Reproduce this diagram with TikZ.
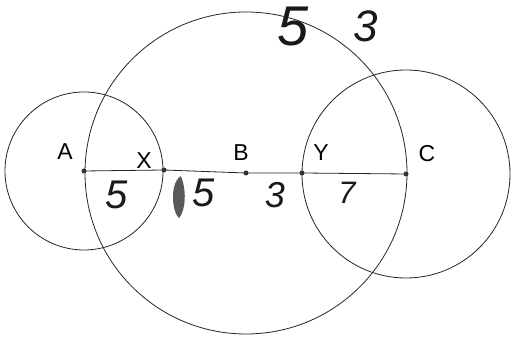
\documentclass[tikz,border=0pt]{standalone}
\usepackage{fontspec}
\setmainfont{Liberation Sans}
\begin{document}
\begin{tikzpicture}[x=1pt,y=1pt,
  geo/.style={line width=0.8pt,draw=black!85},
  ptdot/.style={circle,fill=black!80,inner sep=0pt,minimum size=5pt},
  lbl/.style={font=\fontsize{23}{23}\selectfont,inner sep=0pt},
  hand/.style={font=\fontsize{40}{40}\selectfont\itshape,inner sep=0pt,text=black!90}]
\useasboundingbox (0,0) rectangle (512,339);
\fill[white] (0,0) rectangle (512,339);
\coordinate (A) at (84,168);
\coordinate (X) at (164,169);
\coordinate (B) at (246,166);
\coordinate (Y) at (302,166);
\coordinate (C) at (406,165);
\draw[geo] (A) circle (79pt);
\draw[geo] (B) circle (161pt);
\draw[geo] (C) circle (104pt);
\draw[geo] (A) -- (X) -- (B) -- (Y) -- (C);
\foreach \p in {A,X,B,Y,C} \node[ptdot] (d\p) at (\p) {};
\node[lbl] (lA) at (65,187) {A};
\node[lbl] (lX) at (144,178) {X};
\node[lbl] (lB) at (241,186) {B};
\node[lbl] (lY) at (321,186) {Y};
\node[lbl] (lC) at (427,185) {C};
\node[hand] (n1) at (117,144) {5};
\fill[black!65,rotate around={-5:(179,142)}] (179,163) .. controls (186,150) and (187,130) .. (181,121) .. controls (175,125) and (172,140) .. (173,150) .. controls (174,157) and (176,161) .. (179,163) -- cycle;
\node[hand] (n2) at (204,146) {5};
\node[hand,font=\fontsize{36}{36}\selectfont\itshape] (n3) at (275,144) {3};
\node[hand,font=\fontsize{31}{31}\selectfont\itshape] (n4) at (347,146) {7};
\node[hand,font=\fontsize{56}{56}\selectfont\itshape] (n5) at (293,312) {5};
\node[hand,font=\fontsize{44}{44}\selectfont\itshape] (n6) at (366,313) {3};
\end{tikzpicture}
\end{document}
